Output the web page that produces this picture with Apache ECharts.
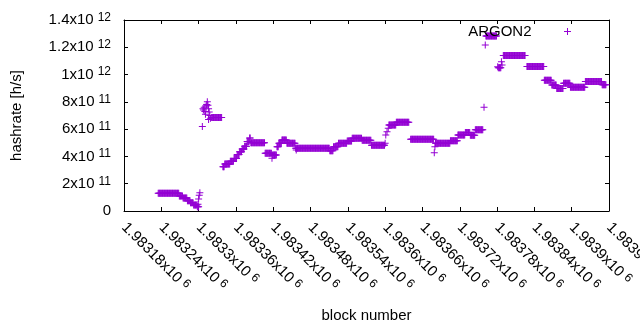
<!DOCTYPE html>
<html>
<head>
<meta charset="utf-8">
<script src="https://cdn.jsdelivr.net/npm/echarts@6/dist/echarts.min.js"></script>
<style>
  html, body { margin: 0; padding: 0; background: #fff; }
  #chart { width: 640px; height: 330px; }
</style>
</head>
<body>
<div id="chart"></div>
<script>
// flat runs of hashrate: every block from runStart to runEnd has runValue
const runStart = [1983235,1983269,1983275,1983282,1983287,1983292,1983298,1983321,1983339,1983342,
  1983351,1983357,1983362,1983366,1983370,1983374,1983378,1983382,1983384,1983407,
  1983419,1983426,1983429,1983434,1983442,1983456,1983511,1983517,1983525,1983539,
  1983547,1983563,1983578,1983606,1983618,1983641,1983682,1983705,1983717,1983729,
  1983737,1983745,1983762,1983782,1983790,1983828,1983856,1983868,1983876,1983887,
  1983898,1983922,1983949];
const runEnd = [1983268,1983274,1983281,1983286,1983291,1983297,1983300,1983337,1983341,1983350,
  1983356,1983361,1983365,1983369,1983373,1983377,1983381,1983383,1983406,1983417,
  1983425,1983428,1983433,1983441,1983455,1983510,1983516,1983524,1983538,1983546,
  1983562,1983577,1983599,1983617,1983638,1983678,1983704,1983716,1983728,1983736,
  1983744,1983757,1983779,1983786,1983825,1983855,1983867,1983875,1983886,1983897,
  1983921,1983948,1983955];
const runValue = [1.30e11,1.10e11,0.95e11,0.75e11,0.61e11,0.44e11,0.32e11,6.85e11,3.25e11,3.45e11,
  3.65e11,3.85e11,4.15e11,4.35e11,4.55e11,4.75e11,5.10e11,5.35e11,5.00e11,4.23e11,
  4.10e11,4.71e11,4.96e11,5.20e11,4.96e11,4.60e11,4.42e11,4.71e11,4.96e11,5.13e11,
  5.33e11,5.18e11,4.82e11,6.30e11,6.50e11,5.26e11,4.96e11,5.15e11,5.57e11,5.75e11,
  5.55e11,5.95e11,12.83e11,10.50e11,11.40e11,10.60e11,9.58e11,9.24e11,8.97e11,9.36e11,
  9.07e11,9.50e11,9.26e11];

// single blocks off the runs
const strayBlock = [1983299,1983300,1983301,1983302,1983306,1983307,1983308,1983309,1983310,1983311,
  1983312,1983313,1983314,1983315,1983316,1983316,1983317,1983318,1983319,1983418,
  1983457,1983600,1983601,1983603,1983605,1983679,1983680,1983681,1983759,1983761,
  1983781,1983787,1983788];
const strayValue = [0.50e11,0.88e11,1.15e11,1.34e11,6.2e11,7.5e11,7.4e11,7.6e11,7.3e11,7.1e11,
  7.7e11,7.8e11,8.0e11,7.75e11,7.5e11,6.7e11,7.25e11,7.0e11,6.8e11,3.86e11,
  4.47e11,4.96e11,5.57e11,5.81e11,6.06e11,4.27e11,4.71e11,4.96e11,7.6e11,12.17e11,
  10.58e11,10.94e11,10.70e11];

const xTicks = { min: 1983180, max: 1983960, step: 60 };
const yTicks = { min: 0, max: 1.4e12, step: 2e11 };

let points = [];
for (let i = 0; i < runStart.length; i++) {
  for (let b = runStart[i]; b <= runEnd[i]; b++) points.push([b, runValue[i]]);
}
for (let i = 0; i < strayBlock.length; i++) points.push([strayBlock[i], strayValue[i]]);

const font = 'Liberation Sans';
const plus = 'path://M0,3H7V4H0Z M3,0H4V7H3Z';
const rich = {
  m: { fontFamily: font, fontSize: 15, color: '#000' },
  e: { fontFamily: font, fontSize: 12, color: '#000', padding: [0, 0, 5, 4] }
};

function xLabel(v) {
  return '{m|' + parseFloat((v / 1e6).toPrecision(6)) + 'x10}{e|6}';
}
function yLabel(v) {
  if (v === 0) return '{m|0}';
  let e = Math.floor(Math.log10(v) + 1e-9);
  let m = parseFloat((v / Math.pow(10, e)).toPrecision(3));
  return '{m|' + m + 'x10}{e|' + e + '}';
}

let chart = echarts.init(document.getElementById('chart'));
let axisLine = { onZero: false, lineStyle: { color: '#000', width: 1 } };
let axisTick = { inside: true, length: 4, lineStyle: { color: '#000' } };

chart.setOption({
  animation: false,
  grid: { left: 124, right: 31, top: 20, bottom: 119, containLabel: false, outerBoundsMode: 'none' },
  legend: {
    data: ['ARGON2'],
    right: 69, top: 24, padding: 0,
    itemWidth: 62, itemHeight: 7, align: 'right',
    textStyle: { fontFamily: font, fontSize: 15, color: '#000' }
  },
  xAxis: [{
    type: 'value', min: xTicks.min, max: xTicks.max, interval: xTicks.step,
    name: 'block number', nameLocation: 'middle', nameGap: 97, nameMoveOverlap: false,
    nameTextStyle: { fontFamily: font, fontSize: 15, color: '#000' },
    axisLine: axisLine, axisTick: axisTick, splitLine: { show: false },
    axisLabel: { rotate: -45, margin: 14, formatter: xLabel, rich: rich }
  }, {
    type: 'value', position: 'top', min: xTicks.min, max: xTicks.max, interval: xTicks.step,
    axisLine: axisLine, axisTick: axisTick, splitLine: { show: false }, axisLabel: { show: false }
  }],
  yAxis: [{
    type: 'value', min: yTicks.min, max: yTicks.max, interval: yTicks.step,
    name: 'hashrate [h/s]', nameLocation: 'middle', nameGap: 100, nameMoveOverlap: false,
    nameTextStyle: { fontFamily: font, fontSize: 15, color: '#000' },
    axisLine: axisLine, axisTick: axisTick, splitLine: { show: false },
    axisLabel: { margin: 13, formatter: yLabel, rich: rich }
  }, {
    type: 'value', position: 'right', min: yTicks.min, max: yTicks.max, interval: yTicks.step,
    axisLine: axisLine, axisTick: axisTick, splitLine: { show: false }, axisLabel: { show: false }
  }],
  series: [{
    name: 'ARGON2', type: 'scatter',
    symbol: plus, symbolSize: 7, symbolKeepAspect: true,
    itemStyle: { color: '#9400d3', opacity: 1 },
    data: points
  }]
});
</script>
</body>
</html>
